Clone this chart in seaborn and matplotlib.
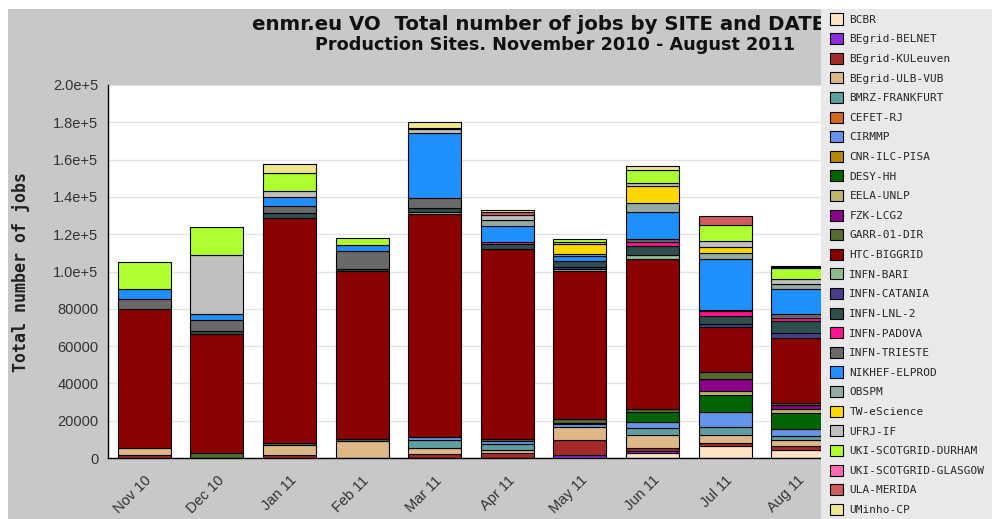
import matplotlib
matplotlib.use("Agg")
import matplotlib.pyplot as plt
from matplotlib.patches import Patch, Rectangle
from matplotlib.ticker import MultipleLocator, FuncFormatter
import seaborn as sns
import numpy as np
import pandas as pd

sns.set_style("white")

months = ["Nov 10", "Dec 10", "Jan 11", "Feb 11", "Mar 11",
          "Apr 11", "May 11", "Jun 11", "Jul 11", "Aug 11"]

sites = ["BCBR", "BEgrid-BELNET", "BEgrid-KULeuven", "BEgrid-ULB-VUB",
         "BMRZ-FRANKFURT", "CEFET-RJ", "CIRMMP", "CNR-ILC-PISA", "DESY-HH",
         "EELA-UNLP", "FZK-LCG2", "GARR-01-DIR", "HTC-BIGGRID", "INFN-BARI",
         "INFN-CATANIA", "INFN-LNL-2", "INFN-PADOVA", "INFN-TRIESTE",
         "NIKHEF-ELPROD", "OBSPM", "TW-eScience", "UFRJ-IF",
         "UKI-SCOTGRID-DURHAM", "UKI-SCOTGRID-GLASGOW", "ULA-MERIDA", "UMinho-CP"]

site_colors = ["#FFE4C4", "#8A2BE2", "#A52A2A", "#DEB887", "#5F9EA0", "#D2691E",
               "#6495ED", "#B8860B", "#006400", "#BDB76B", "#8B008B", "#556B2F",
               "#8B0000", "#8FBC8F", "#483D8B", "#2F4F4F", "#FF1493", "#696969",
               "#1E90FF", "#93ABA2", "#FFD700", "#C0C0C0", "#ADFF2F", "#FF69B4",
               "#CD5C5C", "#F0E68C"]

# jobs per site, Nov 10 .. Aug 11
bcbr       = [0, 0, 0, 0, 0, 0, 0, 2700, 6200, 4500]
belnet     = [0, 0, 0, 0, 0, 0, 1500, 800, 0, 0]
kuleuven   = [1500, 0, 1800, 0, 2300, 2700, 8000, 2000, 2100, 1800]
ulb_vub    = [3600, 0, 5000, 9300, 3000, 1400, 7000, 6800, 3800, 3600]
bmrz       = [0, 0, 0, 0, 4500, 3600, 0, 3900, 4500, 2000]
cefet      = [0, 0, 0, 0, 0, 0, 0, 0, 0, 0]
cirmmp     = [0, 0, 0, 0, 1500, 1500, 1500, 2900, 7900, 3600]
cnr_pisa   = [0, 0, 0, 0, 0, 0, 0, 0, 0, 0]
desy       = [0, 0, 0, 0, 0, 0, 1000, 5400, 9500, 8500]
eela       = [0, 0, 0, 0, 0, 0, 0, 0, 1800, 2100]
fzk        = [0, 0, 0, 0, 0, 0, 0, 0, 6600, 2500]
garr       = [0, 2700, 1000, 1100, 0, 1000, 1800, 2000, 3600, 1000]
htc        = [75000, 63800, 121000, 90000, 119500, 102000, 79400, 80000, 24000, 35000]
bari       = [0, 0, 0, 0, 1000, 0, 1200, 2500, 0, 0]
catania    = [0, 0, 0, 0, 0, 0, 1000, 0, 1800, 2300]
lnl2       = [0, 1400, 2300, 1200, 2000, 2500, 3000, 4500, 4500, 6500]
padova     = [0, 0, 0, 0, 0, 1000, 0, 2100, 2300, 1400]
trieste    = [5000, 6300, 3900, 9300, 5500, 0, 0, 1800, 1000, 2500]
nikhef     = [5700, 3000, 5000, 3200, 35000, 8600, 2900, 14300, 27000, 13500]
obspm      = [0, 0, 0, 0, 0, 3400, 1000, 5000, 3400, 2500]
tw_escience = [0, 0, 0, 0, 0, 0, 5200, 8900, 3200, 0]
ufrj       = [0, 31400, 3200, 0, 2100, 2800, 1400, 1700, 3000, 2500]
durham     = [14300, 15000, 9800, 4100, 0, 0, 1500, 7100, 8600, 6000]
glasgow    = [0, 0, 0, 0, 0, 0, 0, 0, 0, 0]
merida     = [0, 0, 0, 0, 800, 1500, 0, 0, 5000, 600]
uminho     = [0, 0, 4500, 0, 3000, 1000, 0, 2000, 0, 800]

site_jobs = [bcbr, belnet, kuleuven, ulb_vub, bmrz, cefet, cirmmp, cnr_pisa,
             desy, eela, fzk, garr, htc, bari, catania, lnl2, padova, trieste,
             nikhef, obspm, tw_escience, ufrj, durham, glasgow, merida, uminho]

rows = []
for site, jobs in zip(sites, site_jobs):
    for month, n in zip(months, jobs):
        if n > 0:
            rows.append({"month": month, "site": site, "jobs": n})
df = pd.DataFrame(rows)
df["month"] = pd.Categorical(df["month"], categories=months, ordered=True)
df = df.sort_values("month")
palette = dict(zip(sites, site_colors))

W, H = 992, 519
fig = plt.figure(figsize=(W / 100, H / 100), dpi=100)
fig.patch.set_facecolor("white")
fig.patches.append(Rectangle((8 / W, 0), (822 - 8) / W, (H - 9) / H,
                             transform=fig.transFigure, facecolor="#c8c8c8",
                             edgecolor="none", zorder=-1))

ax = fig.add_axes([108 / W, (H - 458) / H, (834 - 108) / W, (458 - 85) / H])
sns.histplot(data=df, x="month", weights="jobs", hue="site",
             hue_order=sites[::-1], palette=palette, multiple="stack",
             discrete=True, shrink=0.73, edgecolor="black", linewidth=0.8,
             alpha=1, legend=False, ax=ax)
# empty segments should not leave an edge line behind
for p in ax.patches:
    if p.get_height() == 0:
        p.set_linewidth(0)

ax.set_facecolor("white")
ax.set_ylim(0, 200000)
ax.set_xlim(-0.5, len(months) - 0.5)
ax.yaxis.set_major_locator(MultipleLocator(20000))
ax.yaxis.set_minor_locator(MultipleLocator(10000))
ax.yaxis.set_major_formatter(FuncFormatter(
    lambda v, pos: f"{v / 1e5:.1f}e+5" if v >= 100000 else f"{v:.0f}"))
ax.set_xticks(np.arange(len(months) + 1) - 0.5, labels=[""] * (len(months) + 1))
ax.set_xticks(np.arange(len(months)), labels=months, minor=True)
ax.tick_params(axis="x", which="minor", length=0, pad=11, rotation=45,
               labelsize=10.5, labelcolor="#333333")
ax.tick_params(axis="x", which="major", length=6, width=1, color="black", direction="out")
ax.tick_params(axis="y", which="major", length=6, width=1, color="black",
               labelsize=10.5, labelcolor="#333333", pad=1)
ax.tick_params(axis="y", which="minor", length=4, width=1, color="black")
for lbl in ax.get_xticklabels(minor=True):
    lbl.set_ha("right")
    lbl.set_rotation_mode("anchor")
for lbl in ax.get_xticklabels(minor=True) + ax.get_yticklabels():
    lbl.set_family("Liberation Sans")
ax.yaxis.grid(True, color="#e3e3e3", linewidth=1)
ax.set_axisbelow(True)
ax.set_xlabel("")
ax.set_ylabel("")
for side in ["top", "right"]:
    ax.spines[side].set_visible(False)
for side in ["left", "bottom"]:
    ax.spines[side].set_color("black")
    ax.spines[side].set_linewidth(1)

fig.text(252 / W, 1 - 30 / H, "enmr.eu VO  Total number of jobs by SITE and DATE",
         ha="left", va="baseline", fontsize=14.2, fontweight="bold",
         family="DejaVu Sans", color="#111111")
fig.text(315 / W, 1 - 50 / H, "Production Sites. November 2010 - August 2011",
         ha="left", va="baseline", fontsize=12.7, fontweight="bold",
         family="DejaVu Sans", color="#111111")
fig.text(21 / W, 1 - 272 / H, "Total number of jobs", rotation=90,
         ha="center", va="center", fontsize=12, fontweight="bold",
         family="DejaVu Sans Mono", color="#222222")

# legend panel sits on top of the right end of the chart, as in the original
lax = fig.add_axes([821 / W, 0, (W - 821) / W, (H - 9) / H])
lax.set_facecolor("#e9e9e9")
lax.set_xticks([])
lax.set_yticks([])
for s in lax.spines.values():
    s.set_visible(False)
lax.set_zorder(5)
handles = [Patch(facecolor=c, edgecolor="black", linewidth=0.8) for c in site_colors]
lax.legend(handles, sites, loc="upper left", bbox_to_anchor=(830 / W, 1 - 13.5 / H),
           bbox_transform=fig.transFigure, frameon=False, borderpad=0,
           borderaxespad=0, handlelength=1.15, handleheight=1.15,
           handletextpad=0.6, labelspacing=0.75,
           prop={"family": "DejaVu Sans Mono", "size": 8})

fig.savefig("out.png", dpi=100)
